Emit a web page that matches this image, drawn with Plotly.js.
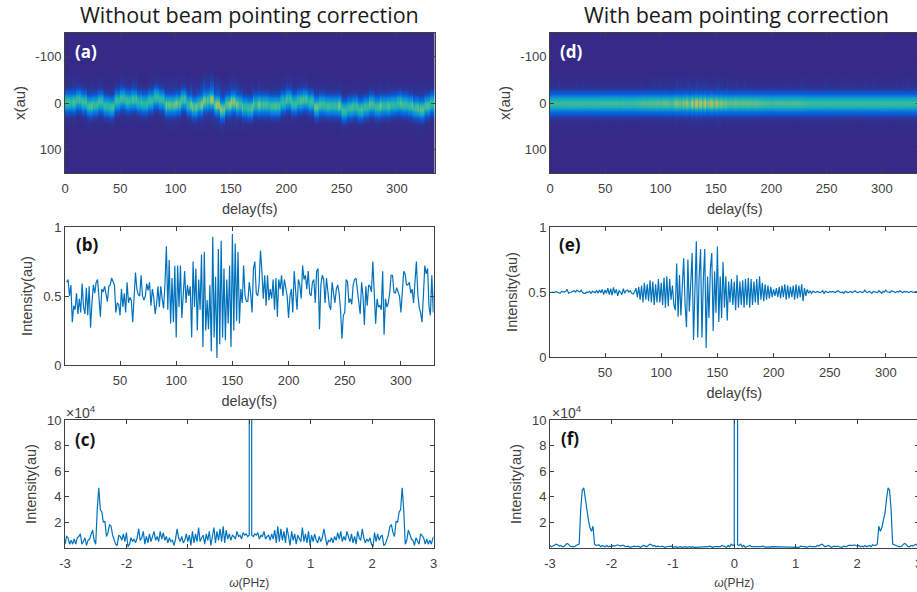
<!DOCTYPE html>
<html>
<head>
<meta charset="utf-8">
<script src="https://cdn.plot.ly/plotly-3.0.1.min.js"></script>
<style>html,body{margin:0;padding:0;width:917px;height:592px;overflow:hidden;background:#fff}</style>
</head>
<body>
<div id="chart" style="width:925px;height:592px"></div>
<script>
// ---------- values ----------
const delayStep = 1.25;
const intensityB = [
.60,.62,.50,.58,.31,.43,.40,.52, .37,.48,.38,.59,.42,.37,.56,.36,
.57,.27,.45,.58,.52,.60,.62,.48, .35,.55,.53,.57,.50,.46,.57,.58,
.63,.60,.58,.38,.45,.44,.36,.55, .42,.52,.38,.60,.45,.49,.47,.31,
.50,.67,.55,.51,.50,.65,.50,.47, .50,.59,.54,.60,.43,.55,.49,.37,
.44,.57,.42,.57,.48,.41,.59,.86, .40,.76,.30,.63,.31,.72,.20,.72,
.42,.72,.34,.55,.68,.45,.58,.50, .57,.20,.75,.42,.70,.25,.62,.40,
.80,.13,.82,.25,.47,.26,.58,.10, .93,.20,.64,.05,.84,.15,.90,.20,
.70,.18,.62,.30,.72,.13,.95,.25, .88,.32,.82,.30,.55,.45,.72,.50,
.46,.46,.60,.52,.38,.70,.75,.52, .50,.58,.83,.68,.48,.65,.43,.65,
.47,.55,.48,.62,.40,.63,.35,.62, .55,.65,.50,.62,.55,.50,.34,.50,
.55,.38,.68,.50,.40,.62,.58,.48, .72,.62,.65,.55,.68,.52,.50,.60,
.62,.45,.68,.70,.26,.58,.65,.62, .45,.63,.50,.43,.40,.60,.52,.45,
.55,.58,.52,.40,.19,.36,.38,.62, .60,.45,.48,.44,.58,.62,.63,.55,
.45,.37,.60,.50,.29,.57,.43,.58, .57,.53,.75,.45,.30,.48,.42,.43,
.40,.68,.22,.48,.42,.45,.52,.65, .65,.53,.52,.56,.52,.50,.38,.52,
.68,.66,.58,.58,.60,.52,.55,.45, .60,.75,.52,.42,.38,.31,.50,.72,
.66,.70,.42,.36,.65,.38,.60,.55
];
const intensityE = [
.50,.50,.495,.505,.50,.495,.49,.505, .50,.50,.505,.52,.49,.495,.50,.505,
.51,.50,.515,.505,.50,.515,.495,.49, .49,.50,.495,.505,.49,.505,.50,.495,
.51,.49,.515,.495,.52,.48,.515,.49, .53,.48,.525,.475,.535,.49,.52,.47,
.51,.50,.48,.525,.49,.51,.515,.50, .51,.49,.485,.50,.53,.46,.54,.44,
.55,.42,.57,.44,.56,.43,.59,.42, .58,.40,.56,.42,.60,.42,.57,.40,
.61,.38,.62,.39,.60,.44,.55,.40, .36,.72,.31,.63,.32,.52,.76,.40,
.23,.75,.35,.56,.80,.13,.55,.89, .15,.62,.83,.15,.60,.83,.07,.62,
.30,.68,.80,.20,.66,.34,.85,.27, .62,.30,.73,.38,.62,.28,.58,.42,
.60,.40,.58,.36,.63,.38,.58,.40, .59,.38,.60,.40,.61,.38,.60,.40,
.58,.42,.60,.40,.62,.44,.57,.43, .56,.44,.55,.45,.54,.46,.52,.47,
.53,.46,.54,.45,.55,.46,.56,.44, .55,.45,.54,.46,.55,.44,.56,.45,
.55,.46,.56,.43,.53,.47,.52,.49, .51,.49,.505,.50,.495,.505,.50,.495,
.50,.51,.49,.505,.50,.495,.505,.50, .505,.50,.495,.505,.51,.50,.495,.50,
.49,.505,.50,.495,.50,.505,.495,.50, .51,.50,.495,.50,.505,.495,.50,.515,
.50,.495,.505,.50,.49,.505,.50,.50, .495,.51,.50,.49,.505,.50,.515,.50,
.50,.495,.51,.505,.50,.495,.505,.50, .51,.50,.495,.505,.50,.505,.495,.50,
.505,.50,.495,.505,.50,.495,.505,.50
];
// half spectra (×10^4), from omega = -3 upward in steps of 0.025; the spectrum of a real signal is mirrored about its centre
const omegaStep = 0.025;
const spectrumC = [
.3,.9,.8,.3,.6,.3,.7,.3, .8,.9,1.1,.3,.5,.8,.2,.6,
.7,1.0,1.4,.6,.3,3.0,4.7,3.0, 2.8,2.0,2.1,.9,1.2,1.8,1.7,1.0,
.7,.3,.2,1.0,.9,.6,1.1,.5, 1.2,.1,.3,.8,.5,.7,.4,.8,
1.5,.6,.8,1.3,.3,.9,.4,1.1, .5,.9,1.3,.6,.9,.5,1.3,.7,
1.2,.6,.9,.4,.8,.5,.6,.2, .7,1.5,.8,.5,.9,.4,.6,1.1,
.5,1.0,.2,1.3,.4,1.1,.5,1.6, .5,.8,1.0,.3,1.1,.6,1.3,.2,
.9,1.6,.4,1.3,.6,1.5,.5,1.7, .4,1.4,.7,1.1,.6,1.0,.9,.7,
1.3,.9,1.0,.7,1.2,1.0,1.1,.9, 1.0
];
const spectrumF = [
.2,.1,.15,.2,.3,.25,.15,.2, .1,.1,.25,.35,.3,.15,.1,.1,
.1,.2,.25,.3,3.0,4.5,4.7,3.8, 2.7,2.2,1.6,1.3,1.7,.3,.2,.2,
.25,.1,.2,.15,.1,.2,.1,.15, .1,.2,.15,.2,.25,.2,.15,.2,
.2,.1,.1,.15,.05,.1,.1,.15, .1,.15,.1,.05,.15,.2,.15,.1,
.2,.3,.25,.15,.2,.1,.15,.1, .1,.15,.1,.05,.1,.1,.1,.15,
.05,.1,.1,.05,.1,.1,.05,.1, .1,.05,.1,.1,.05,.1,.05,.05,
.05,.1,.1,.05,.1,.05,.1,.1, .15,.1,.05,.1,.1,.05,.1,.1,
.2,.15,.1,.05,.2,.1,.3,.2, .25
];
const spectrumSpike = 1000;
// ridge position of the beam (au), one value per 5 fs from 0 fs
const centreA = [-2,-3,-8,-3,5,3,-3,5,8,-5,-10,-6,-8,-3,0,-5,-12,-7,2,3,0,-7,3,8,3,-5,-8,2,12,3,-3,2,8,10,2,2,3,5,4,-3,-8,0,-6,-7,-2,8,3,5,4,6,16,10,7,12,7,3,7,5,5,3,0,3,4,10,13,6,0,0];
const centreD = [0,0,1,0,0,-1,0,0,0,1,0,0,-1,0,0,0,1,0,0,0,0,-1,0,0,1,0,0,0,-1,0,0,1,0,0,0,0,1,0,0,0,-1,0,0,0,1,0,0,0,0,-1,0,0,1,0,0,0,0,1,0,0,-1,0,0,0,1,0,0,0];
// strength of the faint vertical streaks around the ridge, one value per 5 fs
const streakA = [.08,.14,.10,.06,.11,.08,.13,.06,.10,.08,.16,.10,.14,.08,.06,.11,.10,.13,.08,.11,.08,.10,.13,.11,.14,.16,.17,.14,.13,.10,.11,.13,.16,.10,.08,.10,.08,.11,.10,.13,.17,.10,.08,.11,.06,.08,.06,.10,.08,.06,.11,.08,.08,.10,.06,.08,.10,.08,.11,.08,.06,.10,.08,.11,.10,.08,.06,.08];
const streakD = [.08,.10,.08,.06,.08,.08,.10,.08,.06,.08,.08,.06,.08,.08,.06,.08,.10,.06,.08,.08,.08,.10,.11,.10,.08,.10,.10,.08,.08,.06,.10,.08,.13,.10,.08,.08,.06,.08,.08,.06,.08,.08,.06,.08,.06,.08,.08,.08,.08,.08,.10,.06,.08,.11,.08,.08,.06,.08,.10,.13,.08,.06,.08,.08,.10,.08,.08,.06];
// beam cross-section every 2.5 au from the ridge outwards
const beamProfile = [1,.98,.94,.86,.74,.6,.47,.36,.27,.2,.15,.11,.08,.055,.035,.02,.012,.006,.003,0];
const streakProfile = [.8,.8,.8,.8,.8,.8,.8,.8,.8,.72,.65,.55,.45,.4,.35,.3,.25,.21,.18,.15,.13,.11,.09,.07,.06,.03,0];
const parula = [[0,'#352a87'],[.125,'#0363e1'],[.25,'#1485d4'],[.375,'#06a7c6'],[.5,'#38b99e'],[.625,'#92bf73'],[.75,'#d9ba56'],[.875,'#fcce2e'],[1,'#f9fb0e']];
const blue = '#0072BD', ink = '#404040', W = 925, H = 592;

// ---------- derived tables ----------
const delay = intensityB.map((_, i) => 2.5 + i * delayStep);
function mirrorSpectrum(half, centre) {
  const xl = half.map((_, i) => -3 + i * omegaStep);
  const xr = xl.slice().reverse().map(v => 2 * centre - v);
  return { x: xl.concat([centre], xr), y: half.concat([spectrumSpike], half.slice().reverse()) };
}
function beamTable(series, centres, streaks, base, gain) {
  const rows = [], xs = [];
  for (let t = 0; t <= 336; t += delayStep) xs.push(t);
  for (let y = -150; y <= 150; y += 2.5) rows.push(y);
  const z = rows.map(y => xs.map(t => {
    const i = Math.max(0, Math.min(series.length - 1, Math.round((t - 2.5) / delayStep)));
    const k = Math.min(centres.length - 1, Math.floor(t / 5));
    const off = Math.round((y - centres[k]) / 2.5);
    const a = Math.abs(off);
    const peak = base + gain * Math.abs(series[i] - .5);
    const fine = Math.min(1.3, .25 + 3.5 * Math.abs(intensityB[i] - .5));
    const main = a < beamProfile.length ? peak * beamProfile[a] : 0;
    const st = a < streakProfile.length ? streaks[k] * fine * streakProfile[a] * (off > 0 ? .55 : 1) : 0;
    return Math.max(main, st);
  }));
  return { x: xs, y: rows, z };
}
const px = (x0, x1) => [x0 / W, x1 / W];
const py = (top, bot) => [1 - bot / H, 1 - top / H];
const base = () => ({ showgrid: false, zeroline: false, showline: true, linecolor: ink, linewidth: 1, mirror: 'ticks',
  ticks: 'inside', ticklen: 4, tickcolor: ink, tickwidth: 1, tickfont: { family: 'Liberation Sans', size: 13, color: ink } });
const axTitle = (t, size, standoff) => ({ text: t, font: { family: 'Liberation Sans', size, color: ink }, standoff });

const delayTicks = [50, 100, 150, 200, 250, 300];
const heatTicks = [0, 50, 100, 150, 200, 250, 300];
const omegaTicks = [-3, -2, -1, 0, 1, 2, 3];
const omegaText = ['-3', '-2', '-1', '0', '1', '2', '3'];
const omegaLabel = '<i>ω</i>(PHz)';

function heatAxes(xd) {
  return [
    Object.assign(base(), { domain: px(xd, xd + 369.5), range: [0, 334], tickvals: heatTicks, ticklabelstandoff: 3, title: axTitle('delay(fs)', 14.5, 9) }),
    Object.assign(base(), { domain: py(33, 173), range: [150, -150], tickvals: [-100, 0, 100], ticktext: ['-100', '0', '100'], title: axTitle('x(au)', 15, 6) })
  ];
}
function lineAxes(xd, bottom) {
  return [
    Object.assign(base(), { domain: px(xd, xd + 368.5), range: [1, 329], tickvals: delayTicks, ticklabelstandoff: 3, title: axTitle('delay(fs)', 14.5, 9) }),
    Object.assign(base(), { domain: py(227, bottom), range: [0, 1], tickvals: [0, .5, 1], ticktext: ['0', '0.5', '1'], title: axTitle('Intensity(au)', 14.5, 7) })
  ];
}
function specAxes(xd) {
  return [
    Object.assign(base(), { domain: px(xd, xd + 368.5), range: [-3, 3], tickvals: omegaTicks, ticktext: omegaText, ticklabelstandoff: 3, title: axTitle(omegaLabel, 12, 9) }),
    Object.assign(base(), { domain: py(420, 548), range: [0, 10], tickvals: [2, 4, 6, 8, 10], ticktext: ['2', '4', '6', '8', '10'], title: axTitle('Intensity(au)', 14.5, 6) })
  ];
}
const [xa, ya] = heatAxes(65), [xb, yb] = lineAxes(65, 365), [xc, yc] = specAxes(65);
const [xd, yd] = heatAxes(550), [xe, ye] = lineAxes(550, 357), [xf, yf] = specAxes(550);

const tA = beamTable(intensityB, centreA, streakA, .46, .5);
const tD = beamTable(intensityE, centreD, streakD, .50, .55);
const sC = mirrorSpectrum(spectrumC, .02), sF = mirrorSpectrum(spectrumF, .027);
const heat = (t, x, y) => ({ type: 'heatmap', x: t.x, y: t.y, z: t.z, xaxis: x, yaxis: y, zmin: 0, zmax: 1, zsmooth: 'best', colorscale: parula, showscale: false, hoverinfo: 'skip' });
const line = (x, yv, xn, yn) => ({ type: 'scatter', mode: 'lines', x, y: yv, xaxis: xn, yaxis: yn, line: { color: blue, width: 1.2 }, hoverinfo: 'skip' });

const traces = [
  heat(tA, 'x', 'y'), line(delay, intensityB, 'x2', 'y2'), line(sC.x, sC.y, 'x3', 'y3'),
  heat(tD, 'x4', 'y4'), line(delay, intensityE, 'x5', 'y5'), line(sF.x, sF.y, 'x6', 'y6')
];
function label(t, x, y, color, size, family, bold) {
  return { text: bold ? '<b>' + t + '</b>' : t, xref: 'paper', yref: 'paper', x: x / W, y: 1 - y / H, showarrow: false,
    xanchor: 'center', yanchor: 'middle', font: { family, size, color } };
}
const layout = {
  width: W, height: H, margin: { l: 0, r: 0, t: 0, b: 0 }, paper_bgcolor: '#fff', plot_bgcolor: '#fff', showlegend: false,
  xaxis: xa, yaxis: Object.assign(ya, { anchor: 'x' }),
  xaxis2: Object.assign(xb, { anchor: 'y2' }), yaxis2: Object.assign(yb, { anchor: 'x2' }),
  xaxis3: Object.assign(xc, { anchor: 'y3' }), yaxis3: Object.assign(yc, { anchor: 'x3' }),
  xaxis4: Object.assign(xd, { anchor: 'y4' }), yaxis4: Object.assign(yd, { anchor: 'x4' }),
  xaxis5: Object.assign(xe, { anchor: 'y5' }), yaxis5: Object.assign(ye, { anchor: 'x5' }),
  xaxis6: Object.assign(xf, { anchor: 'y6' }), yaxis6: Object.assign(yf, { anchor: 'x6' }),
  annotations: [
    label('Without beam pointing correction', 249, 15, '#1a1a1a', 21.5, 'Open Sans'),
    label('With beam pointing correction', 736, 15, '#1a1a1a', 21.5, 'Open Sans'),
    label('(a)', 86, 52, '#fff', 17, 'Open Sans', true),
    label('(b)', 87, 244, '#111', 17, 'Open Sans', true),
    label('(c)', 85, 439, '#111', 17, 'Open Sans', true),
    label('(d)', 571, 52, '#fff', 17, 'Open Sans', true),
    label('(e)', 570, 245, '#111', 17, 'Open Sans', true),
    label('(f)', 570, 438, '#111', 17, 'Open Sans', true),
    label('×10<sup>4</sup>', 81, 412, ink, 14, 'Liberation Sans'),
    label('×10<sup>4</sup>', 567, 412, ink, 14, 'Liberation Sans')
  ]
};
Plotly.newPlot('chart', traces, layout, { staticPlot: true, displayModeBar: false });
</script>
</body>
</html>
